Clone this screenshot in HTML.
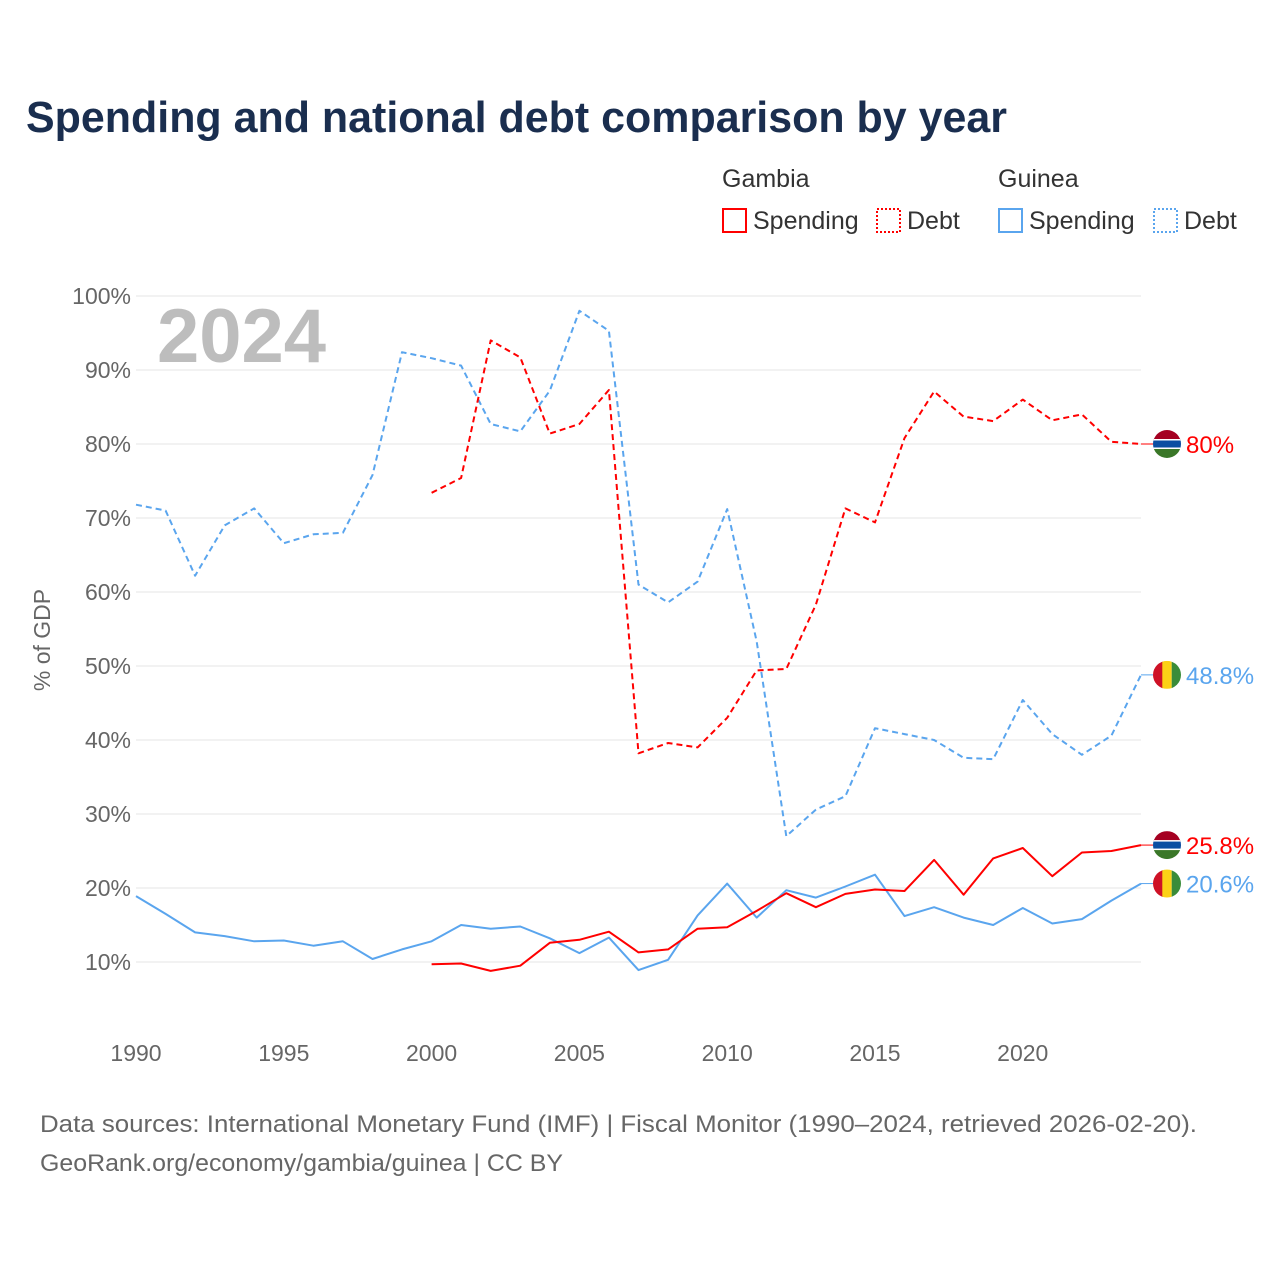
<!DOCTYPE html>
<html><head><meta charset="utf-8"><style>
body{margin:0;background:#fff;font-family:"Liberation Sans",sans-serif;}
svg text{font-family:"Liberation Sans",sans-serif;}
</style></head><body>
<svg width="1280" height="1280" viewBox="0 0 1280 1280">
<text x="26" y="132" font-size="44" font-weight="bold" fill="#1a2e4f" textLength="981" lengthAdjust="spacingAndGlyphs">Spending and national debt comparison by year</text>
<g font-size="25" fill="#333">
<text x="722" y="187">Gambia</text>
<text x="998" y="187">Guinea</text>
<g><rect x="723" y="209" width="23" height="23" fill="none" stroke="#ff0000" stroke-width="2"/><text x="753" y="229">Spending</text></g>
<g><rect x="877" y="209" width="23" height="23" fill="none" stroke="#ff0000" stroke-width="2" stroke-dasharray="2,2"/><text x="907" y="229">Debt</text></g>
<g><rect x="999" y="209" width="23" height="23" fill="none" stroke="#5aa5ee" stroke-width="2"/><text x="1029" y="229">Spending</text></g>
<g><rect x="1154" y="209" width="23" height="23" fill="none" stroke="#5aa5ee" stroke-width="2" stroke-dasharray="2,2"/><text x="1184" y="229">Debt</text></g>
</g>
<g id="grid"></g>
<text x="157" y="362" font-size="76" font-weight="bold" fill="#bdbdbd">2024</text>
<text transform="translate(50,640) rotate(-90)" text-anchor="middle" font-size="23" fill="#666">% of GDP</text>
<g id="series"></g>
<g id="labels"></g>
<text x="40" y="1132" font-size="24" fill="#666" textLength="1157" lengthAdjust="spacingAndGlyphs">Data sources: International Monetary Fund (IMF) | Fiscal Monitor (1990–2024, retrieved 2026-02-20).</text>
<text x="40" y="1171" font-size="24" fill="#666" textLength="523" lengthAdjust="spacingAndGlyphs">GeoRank.org/economy/gambia/guinea | CC BY</text>
</svg>
<script>
const years=[];for(let y=1990;y<=2024;y++)years.push(y);
const yTicks=[10,20,30,40,50,60,70,80,90,100];
const xTicks=[1990,1995,2000,2005,2010,2015,2020];
const guineaDebt=[71.8,71.0,62.2,69.0,71.3,66.6,67.8,68.0,75.8,92.4,91.6,90.6,82.7,81.7,87.2,98.0,95.3,61.0,58.6,61.4,71.2,53.3,27.0,30.6,32.4,41.6,40.8,40.0,37.6,37.4,45.4,40.8,38.0,40.6,48.8];
const guineaSpending=[18.9,16.5,14.0,13.5,12.8,12.9,12.2,12.8,10.4,11.7,12.8,15.0,14.5,14.8,13.2,11.2,13.3,8.9,10.3,16.3,20.6,16.0,19.7,18.7,20.2,21.8,16.2,17.4,16.0,15.0,17.3,15.2,15.8,18.3,20.6];
const gambiaDebt=[null,null,null,null,null,null,null,null,null,null,73.4,75.4,94.0,91.7,81.4,82.7,87.3,38.2,39.6,39.0,43.0,49.4,49.6,58.3,71.3,69.4,80.8,87.1,83.7,83.1,86.0,83.2,84.0,80.3,80.0];
const gambiaSpending=[null,null,null,null,null,null,null,null,null,null,9.7,9.8,8.8,9.5,12.6,13.0,14.1,11.3,11.7,14.5,14.7,16.9,19.3,17.4,19.2,19.8,19.6,23.8,19.1,24.0,25.4,21.6,24.8,25.0,25.8];
const X=y=>136+(y-1990)*(1141-136)/34;
const Y=v=>962-(v-10)*7.4;
const NS='http://www.w3.org/2000/svg';
function mk(tag,attrs,parent){const e=document.createElementNS(NS,tag);for(const k in attrs)e.setAttribute(k,attrs[k]);parent.appendChild(e);return e;}
const grid=document.getElementById('grid');
yTicks.forEach(t=>{
 const l=mk('line',{x1:136,x2:1141,y1:Y(t),y2:Y(t),stroke:'#e6e6e6','stroke-width':1},grid);
 
 
 const tx=mk('text',{x:131,y:Y(t)+8,'text-anchor':'end','font-size':23,fill:'#666'},grid);tx.textContent=t+'%';
 
 
});
xTicks.forEach(t=>{
 const tx=mk('text',{x:X(t),y:1061,'text-anchor':'middle','font-size':23,fill:'#666'},grid);tx.textContent=t;
 
 
});
const series=document.getElementById('series');
function line(data,color,dash,name){
 let d='';let started=false;
 data.forEach((v,i)=>{if(v==null)return;d+=(started?'L':'M')+X(years[i]).toFixed(1)+','+Y(v).toFixed(1);started=true;});
 const p=mk('path',{d:d,fill:'none',stroke:color,'stroke-width':2,'stroke-dasharray':dash,'stroke-linejoin':'round'},series);
 
 
}
line(guineaDebt,'#5aa5ee','6,4','guinea-debt-line');
line(gambiaDebt,'#ff0000','6,4','gambia-debt-line');
line(guineaSpending,'#5aa5ee','none','guinea-spending-line');
line(gambiaSpending,'#ff0000','none','gambia-spending-line');
const labels=document.getElementById('labels');
function flag(cy,country){
 const g=mk('g',{},labels);
 
 
 const cx=1167;
 const cp='clip'+country+Math.round(cy);
 const c=mk('clipPath',{id:cp},g);mk('circle',{cx:cx,cy:cy,r:14},c);
 const gg=mk('g',{'clip-path':'url(#'+cp+')'},g);
 if(country.startsWith('gambia')){
  mk('rect',{x:cx-14,y:cy-14,width:28,height:10,fill:'#a50021'},gg);
  mk('rect',{x:cx-14,y:cy-4,width:28,height:8,fill:'#0b4ea2'},gg);
  mk('rect',{x:cx-14,y:cy-5,width:28,height:1.5,fill:'#fff'},gg);
  mk('rect',{x:cx-14,y:cy+3.5,width:28,height:1.5,fill:'#fff'},gg);
  mk('rect',{x:cx-14,y:cy+5,width:28,height:9,fill:'#3a7728'},gg);
 } else {
  mk('rect',{x:cx-14,y:cy-14,width:10,height:28,fill:'#ce1126'},gg);
  mk('rect',{x:cx-4.7,y:cy-14,width:9.4,height:28,fill:'#fcd116'},gg);
  mk('rect',{x:cx+4.7,y:cy-14,width:10,height:28,fill:'#3a8c3a'},gg);
 }
}
function endLabel(v,color,country,name){
 const cy=Y(v);
 mk('line',{x1:1141,x2:1153,y1:cy,y2:cy,stroke:color,'stroke-width':1},labels);
 flag(cy,country);
 const t=mk('text',{x:1186,y:cy+9,'font-size':24,fill:color},labels);
 t.textContent=(Math.round(v*10)/10)+'%';
 
 
}
endLabel(gambiaDebt[34],'#ff0000','gambia-d','gambia-debt-end-label');
endLabel(guineaDebt[34],'#5aa5ee','guinea-d','guinea-debt-end-label');
endLabel(gambiaSpending[34],'#ff0000','gambia-s','gambia-spending-end-label');
endLabel(guineaSpending[34],'#5aa5ee','guinea-s','guinea-spending-end-label');
</script>
</body></html>
